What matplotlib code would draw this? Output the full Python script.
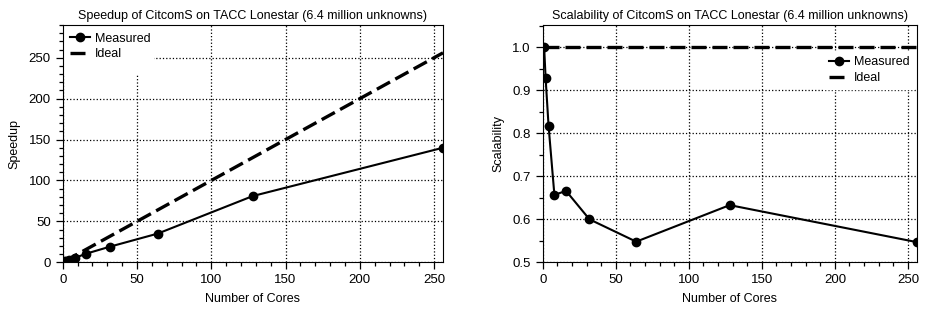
import numpy as np
import matplotlib
matplotlib.use("Agg")
import matplotlib.pyplot as plt
from matplotlib.ticker import MultipleLocator, FormatStrFormatter
from matplotlib.patches import Rectangle

plt.rcParams['font.family'] = ['Liberation Sans', 'DejaVu Sans']
plt.rcParams['font.size'] = 9

cores = np.array([1, 2, 4, 8, 16, 32, 64, 128, 256])
scalability = np.array([1.0, 0.928, 0.818, 0.657, 0.666, 0.600, 0.548, 0.633, 0.547])
speedup = np.array([1.0, 1.86, 3.27, 5.26, 10.66, 19.2, 35.1, 81.0, 140.0])
ideal_speedup = cores.astype(float)
ideal_scal = np.ones(len(cores))

fig = plt.figure(figsize=(9.29, 3.12), dpi=100)
ax1 = fig.add_axes([62.7/929, 1 - 262.3/312, (443 - 62.7)/929, (262.3 - 25)/312])
ax2 = fig.add_axes([542.7/929, 1 - 262.3/312, (916.7 - 542.7)/929, (262.3 - 25)/312])


def style(ax):
    ax.grid(True, linestyle=':', color='black', linewidth=0.9)
    ax.set_axisbelow(True)
    ax.xaxis.set_major_locator(MultipleLocator(50))
    ax.xaxis.set_minor_locator(MultipleLocator(10))
    ax.tick_params(which='major', direction='out', length=5, width=0.9, labelsize=9.5, pad=3.5)
    ax.tick_params(which='minor', direction='out', length=3, width=0.9)
    ax.set_xlim(0, 256)
    ax.set_xlabel('Number of Cores', labelpad=5)


ax1.plot(cores, speedup, '-o', color='black', lw=1.5, ms=6, label='Measured', zorder=3)
ax1.plot(cores, ideal_speedup, '--', color='black', lw=2.4, dashes=(4.5, 1.8), label='Ideal', zorder=2)
style(ax1)
ax1.set_ylim(0, 290)
ax1.yaxis.set_major_locator(MultipleLocator(50))
ax1.yaxis.set_minor_locator(MultipleLocator(10))
ax1.set_ylabel('Speedup', labelpad=6)
ax1.set_title('Speedup of CitcomS on TACC Lonestar (6.4 million unknowns)', fontsize=9, pad=4)
# white block behind the legend that hides the grid, as in the original
ax1.add_patch(Rectangle((0, 0.79), 0.24, 0.21, transform=ax1.transAxes,
                        facecolor='white', edgecolor='none', zorder=1))
leg1 = ax1.legend(loc='upper left', frameon=False, borderaxespad=0.2,
                  handlelength=1.6, handletextpad=0.4, labelspacing=0.3)

ax2.plot(cores, scalability, '-o', color='black', lw=1.5, ms=6, label='Measured', zorder=3)
ax2.plot(cores, ideal_scal, '--', color='black', lw=2.4, dashes=(4.5, 1.8), label='Ideal', zorder=2)
style(ax2)
ax2.set_ylim(0.5, 1.052)
ax2.yaxis.set_major_locator(MultipleLocator(0.1))
ax2.yaxis.set_minor_locator(MultipleLocator(0.05))
ax2.yaxis.set_major_formatter(FormatStrFormatter('%.1f'))
ax2.set_ylabel('Scalability', labelpad=6)
ax2.set_title('Scalability of CitcomS on TACC Lonestar (6.4 million unknowns)', fontsize=9, pad=4)
leg2 = ax2.legend(loc='upper right', bbox_to_anchor=(1.0, 0.9), frameon=True, fancybox=False,
                  edgecolor='white', borderaxespad=0.2, handlelength=1.6, handletextpad=0.4,
                  labelspacing=0.3)
leg2.get_frame().set_alpha(1)

fig.savefig('out.png', dpi=100)
